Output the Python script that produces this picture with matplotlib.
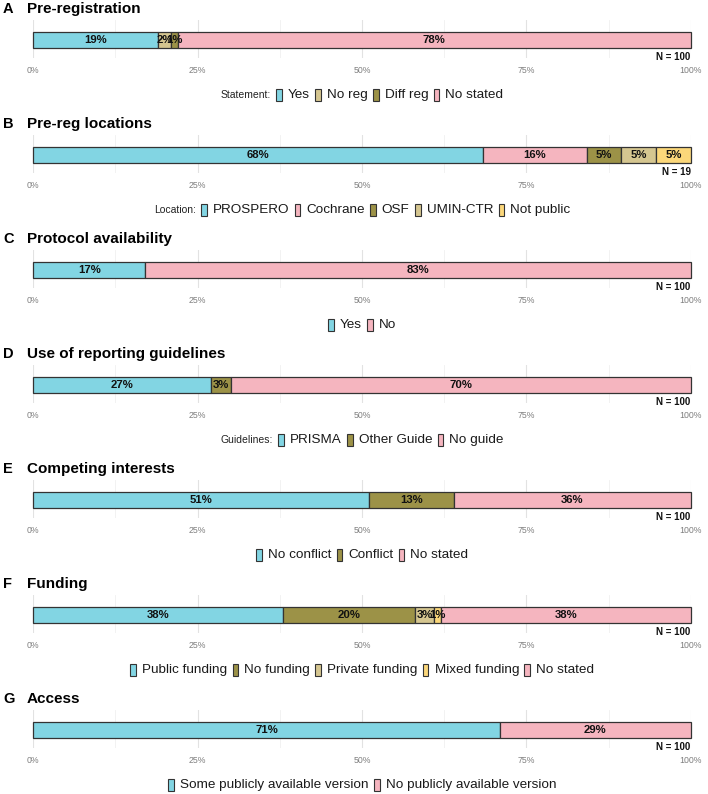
import matplotlib
matplotlib.use('Agg')
import matplotlib.pyplot as plt
from matplotlib.patches import Rectangle
from matplotlib.offsetbox import AnchoredOffsetbox, HPacker, TextArea, DrawingArea

plt.rcParams['font.family'] = ['Liberation Sans', 'DejaVu Sans']

CYAN = '#82d5e3'
PINK = '#f5b5bf'
OLIVE = '#9c9247'
TAN = '#d5c690'
YELLOW = '#fbd77a'

# panel data
TAGS = ['A', 'B', 'C', 'D', 'E', 'F', 'G']
TITLES = ['Pre-registration', 'Pre-reg locations', 'Protocol availability',
          'Use of reporting guidelines', 'Competing interests', 'Funding', 'Access']
LEGEND_TITLES = ['Statement:', 'Location:', None, 'Guidelines:', None, None, None]

prereg_labels = ['Yes', 'No reg', 'Diff reg', 'No stated']
prereg_counts = [19, 2, 1, 78]
prereg_colors = [CYAN, TAN, OLIVE, PINK]

location_labels = ['PROSPERO', 'Cochrane', 'OSF', 'UMIN-CTR', 'Not public']
location_counts = [13, 3, 1, 1, 1]
location_colors = [CYAN, PINK, OLIVE, TAN, YELLOW]

protocol_labels = ['Yes', 'No']
protocol_counts = [17, 83]
protocol_colors = [CYAN, PINK]

guide_labels = ['PRISMA', 'Other Guide', 'No guide']
guide_counts = [27, 3, 70]
guide_colors = [CYAN, OLIVE, PINK]

coi_labels = ['No conflict', 'Conflict', 'No stated']
coi_counts = [51, 13, 36]
coi_colors = [CYAN, OLIVE, PINK]

funding_labels = ['Public funding', 'No funding', 'Private funding', 'Mixed funding', 'No stated']
funding_counts = [38, 20, 3, 1, 38]
funding_colors = [CYAN, OLIVE, TAN, YELLOW, PINK]

access_labels = ['Some publicly available version', 'No publicly available version']
access_counts = [71, 29]
access_colors = [CYAN, PINK]

PANELS = [
  (prereg_labels, prereg_counts, prereg_colors),
  (location_labels, location_counts, location_colors),
  (protocol_labels, protocol_counts, protocol_colors),
  (guide_labels, guide_counts, guide_colors),
  (coi_labels, coi_counts, coi_colors),
  (funding_labels, funding_counts, funding_colors),
  (access_labels, access_counts, access_colors),
]

W, H = 708.0, 794.0
X0, X1 = 33.3, 690.7
PANEL_H = 115.0

fig = plt.figure(figsize=(W/100, H/100), dpi=100)


def draw_panel(k, tag, title, labels, counts, colors, leg_title):
  off = k*PANEL_H
  ax = fig.add_axes([X0/W, 1-(58+off)/H, (X1-X0)/W, 38/H])
  n = sum(counts)
  pct = [100.0*c/n for c in counts]
  left = 0.0
  for p, col in zip(pct, colors):
    ax.barh(18, p, left=left, height=16, color=col, edgecolor='#333333',
            linewidth=0.9, zorder=3, clip_on=False)
    ax.text(left+p/2, 18, '%d%%' % round(p), ha='center', va='center',
            fontsize=8.2, fontweight='bold', color='#111111', zorder=4)
    left += p
  ax.text(100, 1.0, 'N = %d' % n, ha='right', va='center', fontsize=7,
          fontweight='bold', color='#111111')

  ax.set_xlim(0, 100)
  ax.set_ylim(0, 38)
  ax.set_xticks([0, 25, 50, 75, 100])
  ax.set_xticklabels(['0%', '25%', '50%', '75%', '100%'])
  ax.set_xticks([12.5, 37.5, 62.5, 87.5], minor=True)
  ax.set_yticks([])
  ax.grid(which='major', axis='x', color='#e2e2e2', linewidth=0.8)
  ax.grid(which='minor', axis='x', color='#f0f0f0', linewidth=0.6)
  ax.set_axisbelow(True)
  ax.tick_params(axis='x', which='both', length=0, pad=6, labelsize=6.3,
                 labelcolor='#7f7f7f')
  for s in ax.spines.values():
    s.set_visible(False)

  ybase = 1-(13+off)/H
  fig.text(3/W, ybase, tag, fontsize=10.5, fontweight='bold', va='baseline')
  fig.text(27/W, ybase, title, fontsize=11, fontweight='bold', va='baseline')

  items = []
  if leg_title:
    items.append(TextArea(leg_title, textprops=dict(fontsize=7.5, color='#222222')))
  for lab, col in zip(labels, colors):
    da = DrawingArea(4.8, 9, 0, 0)
    da.add_artist(Rectangle((0.4, 0), 4.0, 9, facecolor=col,
                            edgecolor='#333333', linewidth=0.8))
    txt = TextArea(lab, textprops=dict(fontsize=9.7, color='#1a1a1a'))
    items.append(HPacker(children=[da, txt], sep=4, pad=0, align='center'))
  box = HPacker(children=items, sep=3.5, pad=0, align='center')
  anc = AnchoredOffsetbox(loc='center', child=box, pad=0, borderpad=0,
                          frameon=False,
                          bbox_to_anchor=(((X0+X1)/2)/W, 1-(95+off)/H),
                          bbox_transform=fig.transFigure)
  fig.add_artist(anc)


for k, (labels, counts, colors) in enumerate(PANELS):
  draw_panel(k, TAGS[k], TITLES[k], labels, counts, colors, LEGEND_TITLES[k])

fig.savefig('out.png', dpi=100)
